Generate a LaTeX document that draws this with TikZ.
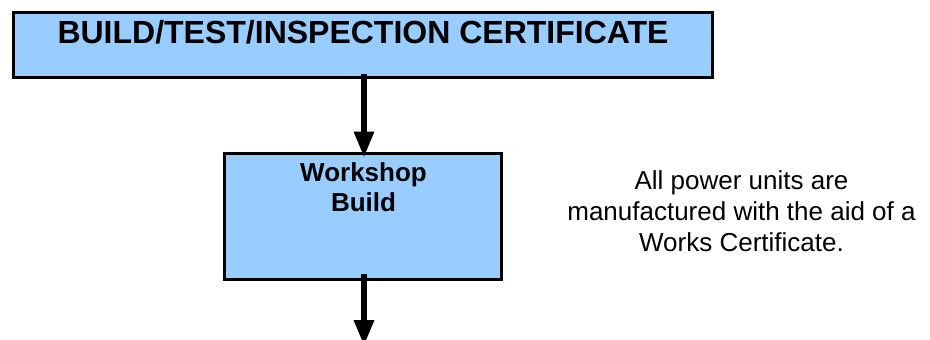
\documentclass[tikz,border=0pt]{standalone}
\usepackage{fontspec}
\setmainfont{Liberation Sans}
\usetikzlibrary{arrows.meta}
\definecolor{boxblue}{HTML}{99CCFF}
\tikzset{
  bluebox/.style={draw=black, fill=boxblue, rectangle, inner sep=0pt},
  flowarrow/.style={line width=6pt, -{Triangle[length=26pt,width=19pt]}},
  titletext/.style={font=\bfseries\fontsize{32}{38}\selectfont, inner sep=0pt},
  boxtext/.style={font=\bfseries\fontsize{26}{30}\selectfont, align=center, inner sep=0pt},
  notetext/.style={font=\fontsize{26}{31}\selectfont, align=center, inner sep=0pt}
}
\begin{document}
\begin{tikzpicture}[x=1pt,y=-1pt]
\useasboundingbox (0,0) rectangle (930,340);
\clip (0,0) rectangle (930,340);
\node[bluebox, line width=3.4pt, minimum width=698.6pt, minimum height=64.6pt] (top) at (363,45) {};
\node[titletext, anchor=base] (title) at (363,43) {BUILD/TEST/INSPECTION CERTIFICATE};
\node[bluebox, line width=3pt, minimum width=277pt, minimum height=126pt] (work) at (363,216.5) {};
\node[boxtext, anchor=base] (worktext) at (363.5,211) {Workshop\\Build};
\node[notetext, anchor=base] (note) at (741.5,251) {All power units are\\manufactured with the aid of a\\Works Certificate.};
\coordinate (down) at (364,346);
\draw[flowarrow] ([xshift=1pt,yshift=5.25pt]top.south) -- ([xshift=1pt,yshift=-5.5pt]work.north);
\draw[flowarrow] ([xshift=1pt,yshift=7.5pt]work.south) -- (down);
\end{tikzpicture}
\end{document}
